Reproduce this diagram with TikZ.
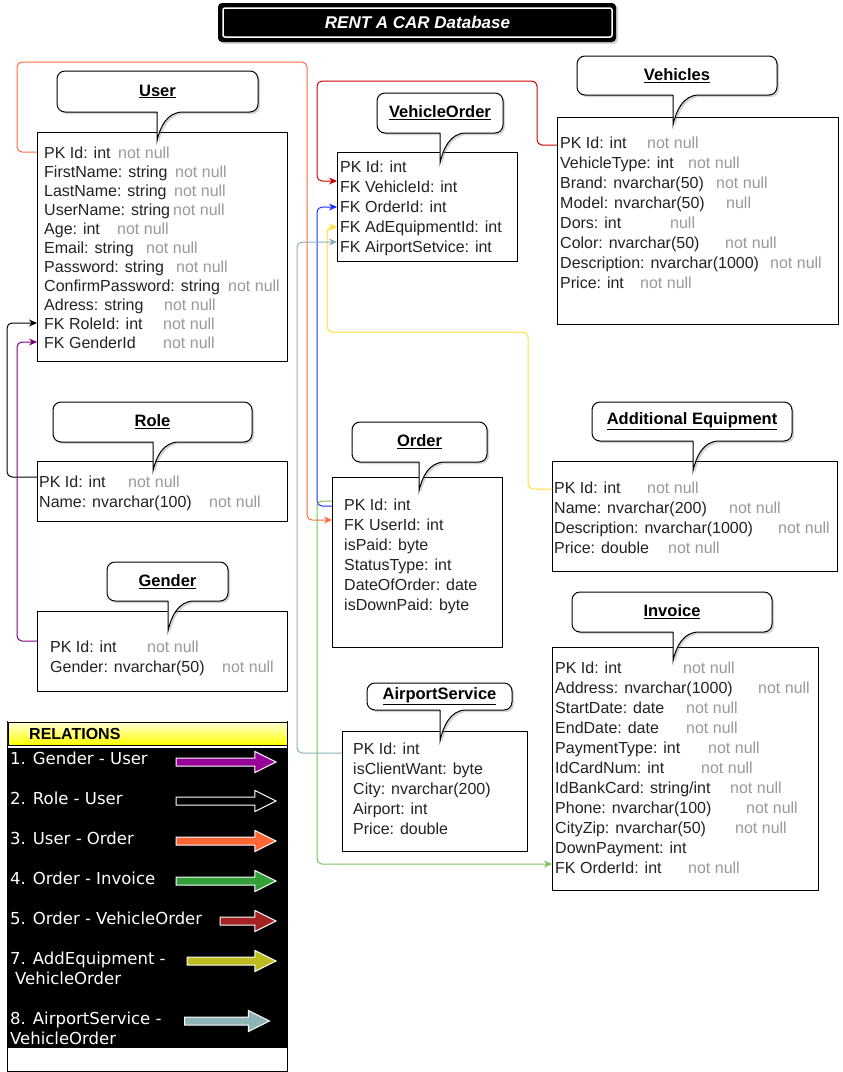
\documentclass[tikz,border=0pt]{standalone}
\usepackage{fontspec}
\setmainfont{Liberation Sans}
\newfontfamily\legendfont{DejaVu Sans}
\usetikzlibrary{arrows.meta, positioning, shapes.arrows, shadows}

\definecolor{nullgray}{HTML}{999999}
\definecolor{fieldtxt}{HTML}{222222}
\definecolor{linkorange}{HTML}{FF6A3D}
\definecolor{linkred}{HTML}{CC0000}
\definecolor{linkblue}{HTML}{1A2EFF}
\definecolor{linkyellow}{HTML}{FFDD33}
\definecolor{linkteal}{HTML}{87AFB4}
\definecolor{linkgreen}{HTML}{7CC05B}
\definecolor{linkpurple}{HTML}{800080}
\definecolor{relpurple}{HTML}{990099}
\definecolor{relorange}{HTML}{FF6633}
\definecolor{relgreen}{HTML}{33A03A}
\definecolor{relred}{HTML}{A52222}
\definecolor{relolive}{HTML}{BDBD22}
\definecolor{relteal}{HTML}{8FB4B8}

% field text with the "not null" part at a fixed offset
\newcommand{\fieldrow}[3]{\setbox0\hbox{#2}\ifdim\wd0<#1pt\makebox[#1pt][l]{#2}\else\box0\ \fi\textcolor{nullgray}{#3}}

% callout with table name: name, left, top, right, bottom, tail x, tip y, text
\newcommand{\titlebox}[8]{%
  \draw[titleframe] (#6,#5) -- (#6,#7) .. controls (#6+3,#7-14) and (#6+10,#5) .. (#6+26,#5)
    [rounded corners=8pt] -- (#4,#5) -- (#4,#3) -- (#2,#3) -- (#2,#5) -- (#6,#5);
  \node[tabletitle] (#1) at ({(#2+#4)/2},{(#3+#5)/2}) {\underline{#8}};}

\begin{document}
\begin{tikzpicture}[x=1pt, y=-1pt,
  entity/.style={draw=black, fill=white, line width=1pt, anchor=north west, inner sep=0pt},
  fields/.style={anchor=north west, inner sep=0pt, align=left, text=fieldtxt, font=\fontsize{16}{20}\selectfont},
  titleframe/.style={draw=black, fill=white, line width=1pt, drop shadow={shadow xshift=2pt, shadow yshift=-2pt, opacity=0.35}},
  tabletitle/.style={font=\fontsize{16.5}{20}\selectfont\bfseries, inner sep=0pt},
  link/.style={line width=1pt, rounded corners=5pt, -{Stealth[length=8pt,width=7pt]}},
  relitem/.style={anchor=west, inner sep=0pt, align=left, text=white, font=\legendfont\fontsize{16.5}{20}\selectfont},
  relarrow/.style={single arrow, draw=white, line width=1pt, inner xsep=0pt, inner ysep=3.5pt,
    single arrow head extend=6.5pt, single arrow tip angle=53}]

  \useasboundingbox (0,0) rectangle (843,1072);

  % title
  \node[fill=black, rounded corners=4pt, minimum width=398pt, minimum height=39pt, inner sep=0pt,
    drop shadow={shadow xshift=2pt, shadow yshift=-2pt, opacity=0.35}] (banner) at (417,22.5) {};
  \node[draw=white, line width=1.5pt, rounded corners=2pt, minimum width=389pt, minimum height=29pt, inner sep=0pt,
    text=white, font=\fontsize{17}{20}\selectfont\bfseries\itshape] (banner-txt) at (417.5,22.5) {RENT A CAR Database};

  % tables
  \node[entity, minimum width=250pt, minimum height=229pt] (user) at (37,132) {};
  \node[fields, font=\fontsize{16}{19}\selectfont] (user-f) at (44,146.5) {%
    \fieldrow{74}{PK Id: int}{not null}\\
    \fieldrow{131}{FirstName: string}{not null}\\
    \fieldrow{130}{LastName: string}{not null}\\
    \fieldrow{129}{UserName: string}{not null}\\
    \fieldrow{73}{Age: int}{not null}\\
    \fieldrow{102}{Email: string}{not null}\\
    \fieldrow{132}{Password: string}{not null}\\
    \fieldrow{184}{ConfirmPassword: string}{not null}\\
    \fieldrow{120}{Adress: string}{not null}\\
    \fieldrow{119}{FK RoleId: int}{not null}\\
    \fieldrow{119}{FK GenderId}{not null}};

  \node[entity, minimum width=180pt, minimum height=109pt] (vorder) at (337,152) {};
  \node[fields] (vorder-f) at (340,160.5) {%
    PK Id: int\\ FK VehicleId: int\\ FK OrderId: int\\ FK AdEquipmentId: int\\ FK AirportSetvice: int};

  \node[entity, minimum width=281pt, minimum height=207pt] (vehicles) at (557,117) {};
  \node[fields] (vehicles-f) at (560,136.5) {%
    \fieldrow{87}{PK Id: int}{not null}\\
    \fieldrow{128}{VehicleType: int}{not null}\\
    \fieldrow{156}{Brand: nvarchar(50)}{not null}\\
    \fieldrow{166}{Model: nvarchar(50)}{null}\\
    \fieldrow{110}{Dors: int}{null}\\
    \fieldrow{165}{Color: nvarchar(50)}{not null}\\
    \fieldrow{210}{Description: nvarchar(1000)}{not null}\\
    \fieldrow{80}{Price: int}{not null}};

  \node[entity, minimum width=250pt, minimum height=60pt] (role) at (37,461) {};
  \node[fields] (role-f) at (39,475.5) {%
    \fieldrow{89}{PK Id: int}{not null}\\
    \fieldrow{170}{Name: nvarchar(100)}{not null}};

  \node[entity, minimum width=250pt, minimum height=80pt] (gender) at (37,611) {};
  \node[fields] (gender-f) at (50,640.5) {%
    \fieldrow{97}{PK Id: int}{not null}\\
    \fieldrow{172}{Gender: nvarchar(50)}{not null}};

  \node[entity, minimum width=170pt, minimum height=170pt] (order) at (332,477) {};
  \node[fields] (order-f) at (344,498.5) {%
    PK Id: int\\ FK UserId: int\\ isPaid: byte\\ StatusType: int\\ DateOfOrder: date\\ isDownPaid: byte};

  \node[entity, minimum width=285pt, minimum height=110pt] (equip) at (552,461) {};
  \node[fields] (equip-f) at (554,481.5) {%
    \fieldrow{93}{PK Id: int}{not null}\\
    \fieldrow{175}{Name: nvarchar(200)}{not null}\\
    \fieldrow{224}{Description: nvarchar(1000)}{not null}\\
    \fieldrow{114}{Price: double}{not null}};

  \node[entity, minimum width=266pt, minimum height=243pt] (invoice) at (552,647) {};
  \node[fields] (invoice-f) at (555,661.5) {%
    \fieldrow{128}{PK Id: int}{not null}\\
    \fieldrow{203}{Address: nvarchar(1000)}{not null}\\
    \fieldrow{131}{StartDate: date}{not null}\\
    \fieldrow{131}{EndDate: date}{not null}\\
    \fieldrow{153}{PaymentType: int}{not null}\\
    \fieldrow{146}{IdCardNum: int}{not null}\\
    \fieldrow{175}{IdBankCard: string/int}{not null}\\
    \fieldrow{191}{Phone: nvarchar(100)}{not null}\\
    \fieldrow{180}{CityZip: nvarchar(50)}{not null}\\
    DownPayment: int\\
    \fieldrow{133}{FK OrderId: int}{not null}};

  \node[entity, minimum width=185pt, minimum height=120pt] (airport) at (342,731) {};
  \node[fields] (airport-f) at (353,742.5) {%
    PK Id: int\\ isClientWant: byte\\ City: nvarchar(200)\\ Airport: int\\ Price: double};

  % row anchors
  \coordinate (user-pk) at ([yshift=-20pt]user.north west);
  \coordinate (user-role) at ([yshift=-191pt]user.north west);
  \coordinate (user-gender) at ([yshift=-210pt]user.north west);
  \coordinate (vorder-veh) at ([yshift=-29pt]vorder.north west);
  \coordinate (vorder-ord) at ([yshift=-55pt]vorder.north west);
  \coordinate (vorder-eq) at ([yshift=-75pt]vorder.north west);
  \coordinate (vorder-air) at ([yshift=-90pt]vorder.north west);
  \coordinate (vehicles-pk) at ([yshift=-28pt]vehicles.north west);
  \coordinate (role-pk) at ([yshift=-16pt]role.north west);
  \coordinate (gender-pk) at ([yshift=-30pt]gender.north west);
  \coordinate (order-pk) at ([yshift=-24pt]order.north west);
  \coordinate (order-id) at ([yshift=-29pt]order.north west);
  \coordinate (order-user) at ([yshift=-43pt]order.north west);
  \coordinate (equip-pk) at ([yshift=-28pt]equip.north west);
  \coordinate (invoice-fk) at ([yshift=-217pt]invoice.north west);
  \coordinate (airport-pk) at ([yshift=-22pt]airport.north west);

  % relations
  \draw[link, linkorange] (user-pk) -- ++(-20,0) |- (307,62) |- (order-user);
  \draw[link, linkred] (vehicles-pk) -- ++(-20,0) |- (317,81) |- (vorder-veh);
  \draw[link, linkblue] (order-id) -- ++(-15,0) |- (vorder-ord);
  \draw[link, linkyellow] (equip-pk) -- ++(-24,0) |- (327,332) |- (vorder-eq);
  \draw[link, linkteal] (airport-pk) -- ++(-45,0) |- (vorder-air);
  \draw[link, linkgreen] (order-pk) -- ++(-15,0) |- (invoice-fk);
  \draw[link, black] (role-pk) -- ++(-30,0) |- (user-role);
  \draw[link, linkpurple] (gender-pk) -- ++(-20,0) |- (user-gender);

  % table names
  \titlebox{user-t}{57}{71}{258}{112}{157}{141}{User}
  \titlebox{vorder-t}{377}{93}{503}{133}{440}{163}{VehicleOrder}
  \titlebox{vehicles-t}{577}{56}{777}{95}{673}{125}{Vehicles}
  \titlebox{role-t}{53}{402}{252}{442}{153}{471}{Role}
  \titlebox{gender-t}{107}{562}{228}{601}{168}{631}{Gender}
  \titlebox{order-t}{352}{422}{487}{462}{419}{491}{Order}
  \titlebox{equip-t}{592}{402}{792}{441}{693}{471}{Additional Equipment}
  \titlebox{invoice-t}{572}{592}{772}{632}{673}{661}{Invoice}
  \titlebox{airport-t}{367}{683}{512}{710}{440}{741}{AirportService}

  % legend
  \node[draw=black, fill=white, line width=1pt, anchor=north west, inner sep=0pt,
    minimum width=280pt, minimum height=350pt] (legend) at (7,721) {};
  \node[draw=black, line width=0.8pt, top color=yellow!15!white, bottom color=yellow, anchor=north west, inner sep=0pt,
    minimum width=279pt, minimum height=23pt] (legend-head) at (7.5,721.5) {};
  \node[anchor=west, inner sep=0pt, font=\fontsize{16}{20}\selectfont\bfseries] (legend-title) at (29,734) {RELATIONS};
  \node[fill=black, anchor=north west, inner sep=0pt, minimum width=279pt, minimum height=300pt] (legend-body) at (8,748) {};

  \node[relitem] (rel1) at (10,758) {1. Gender - User};
  \node[relitem] (rel2) at (10,798) {2. Role - User};
  \node[relitem] (rel3) at (10,838) {3. User - Order};
  \node[relitem] (rel4) at (10,878) {4. Order - Invoice};
  \node[relitem] (rel5) at (10,918) {5. Order - VehicleOrder};
  \node[relitem] (rel7) at (10,968.5) {7. AddEquipment -\\\hspace{5pt}VehicleOrder};
  \node[relitem] (rel8) at (10,1028) {8. AirportService -\\VehicleOrder};

  \node[relarrow, fill=relpurple, minimum height=100pt] (arr1) at (222,762) {};
  \node[relarrow, fill=black, minimum height=100pt] (arr2) at (222,801) {};
  \node[relarrow, fill=relorange, minimum height=100pt] (arr3) at (222,841) {};
  \node[relarrow, fill=relgreen, minimum height=100pt] (arr4) at (222,881) {};
  \node[relarrow, fill=relred, minimum height=56pt] (arr5) at (244,921) {};
  \node[relarrow, fill=relolive, minimum height=89pt] (arr7) at (227.5,961) {};
  \node[relarrow, fill=relteal, minimum height=85pt] (arr8) at (223,1021) {};
\end{tikzpicture}
\end{document}
